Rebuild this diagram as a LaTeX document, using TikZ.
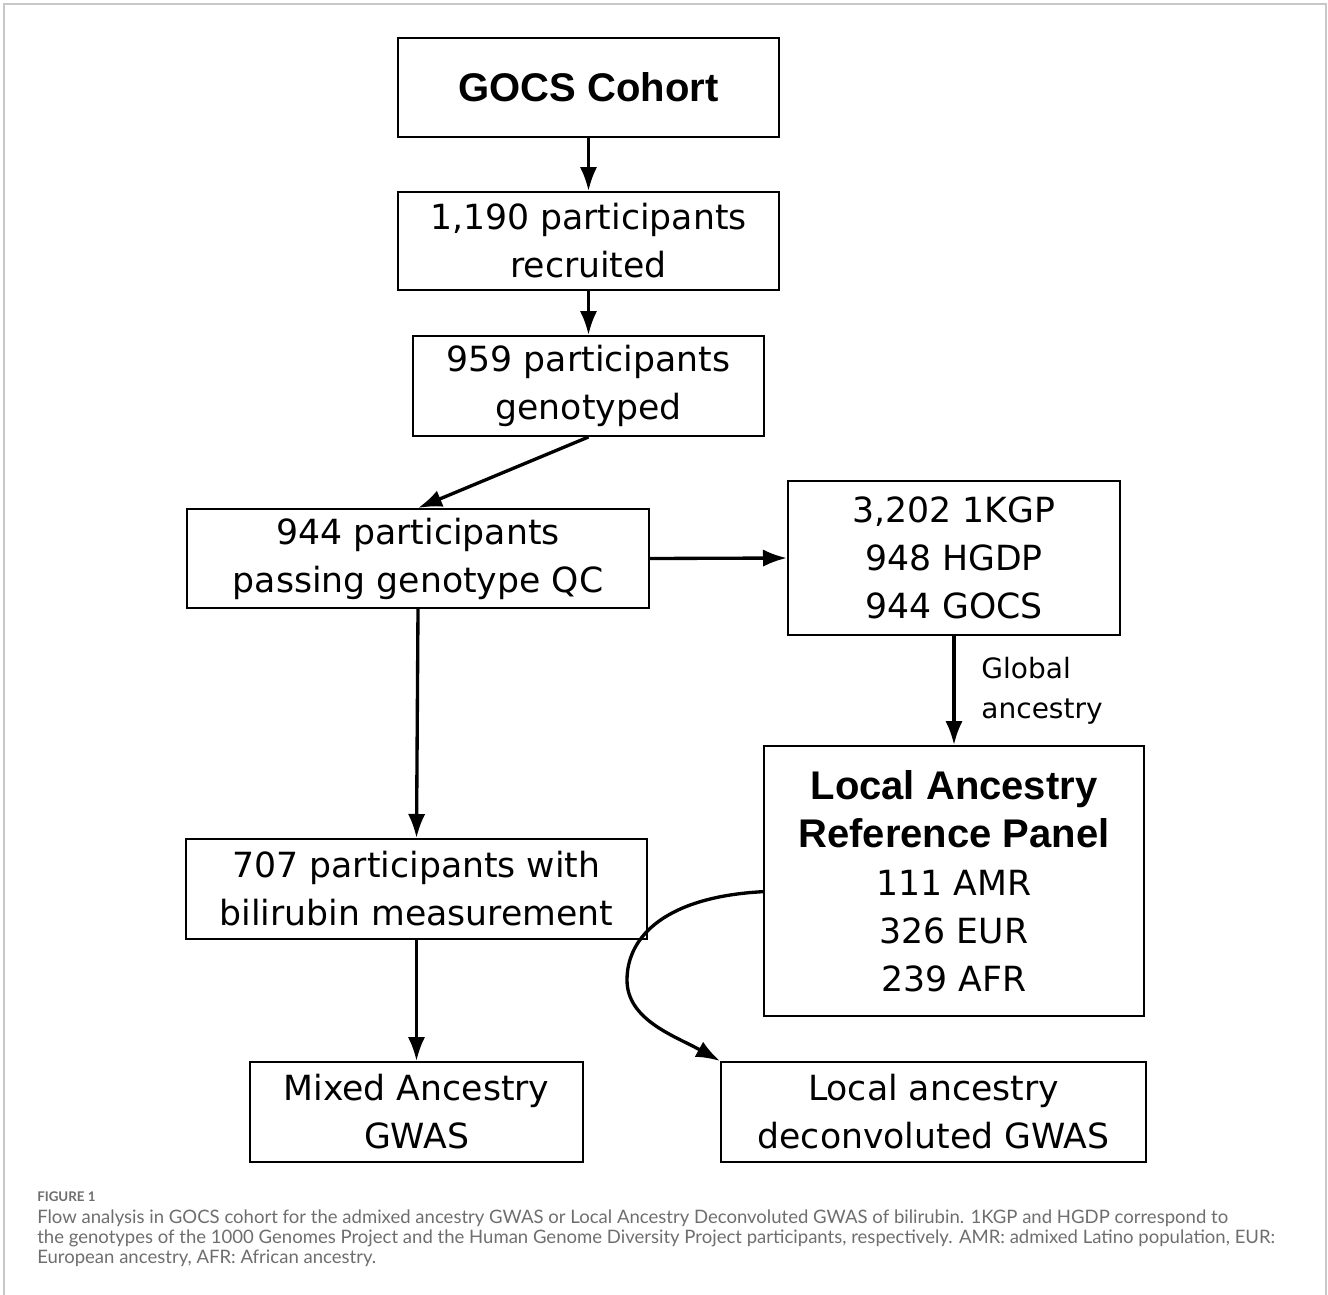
\documentclass[tikz,border=0pt]{standalone}
\usepackage{fontspec}
\setmainfont{DejaVu Sans}
\newfontfamily\headfont{Liberation Sans}
\newfontfamily\capfont{Lato}
\usepackage{tikz}
\usetikzlibrary{arrows.meta,positioning,calc}
\definecolor{framegray}{HTML}{C8C8C8}
\definecolor{capgray}  {HTML}{6E6E6E}

\begin{document}
\begin{tikzpicture}[
  box/.style={draw,line width=1.5pt,align=center,inner sep=0pt,
              font=\fontsize{26}{36}\selectfont},
  head/.style={font=\headfont\bfseries\fontsize{30}{36}\selectfont},
  arr/.style={-{Latex[length=18pt,width=13pt]},line width=2.5pt},
  x=0.75pt,y=-0.75pt
]
\useasboundingbox (0,0) rectangle (1328,1295);
\draw[framegray,line width=1pt] (4,1295) -- (4,4) -- (1326,4) -- (1326,1295);
% Cohort
\node[box,head,minimum width=285.75pt,minimum height=74.25pt] (gocs) at (588.5,87.5) {GOCS Cohort};
\node[box,minimum width=285.75pt,minimum height=73.5pt] (recr)  at (588.5,241)   {1,190 participants\\recruited};
\node[box,minimum width=263.25pt,minimum height=75pt]   (geno)  at (588.5,386)   {959 participants\\genotyped};
\node[box,minimum width=346.5pt,minimum height=74.25pt] (qc)    at (418,558.5)   {944 participants\\passing genotype QC};
% Reference panel
\node[box,minimum width=249pt,minimum height=115.5pt]   (ref)   at (954,558)     {3,202 1KGP\\948 HGDP\\944 GOCS};
\node[box,minimum width=285pt,minimum height=202.5pt]   (larp)  at (954,881)
  {{\headfont\bfseries\fontsize{30}{36}\selectfont Local Ancestry}\\
   {\headfont\bfseries\fontsize{30}{36}\selectfont Reference Panel}\\
   111 AMR\\326 EUR\\239 AFR};
% Analyses
\node[box,minimum width=345.75pt,minimum height=75pt]   (bili)  at (416.5,889)   {707 participants with\\bilirubin measurement};
\node[box,minimum width=249.75pt,minimum height=75pt]   (mixed) at (416.5,1112)  {Mixed Ancestry\\GWAS};
\node[box,minimum width=318.75pt,minimum height=75pt]   (lad)   at (933.5,1112)  {Local ancestry\\deconvoluted GWAS};

\draw[arr] (gocs.south) -- (recr.north);
\draw[arr] (recr.south) -- (geno.north);
\draw[arr] (geno.south) -- (qc.north);
\draw[arr] (qc.east) -- (ref.west);
\draw[arr] (ref.south) -- node[anchor=west,xshift=16pt,align=left,
  font=\fontsize{21}{30}\selectfont]{Global\\ancestry} (larp.north);
\draw[arr] (qc.south) -- (bili.north);
\draw[arr] (bili.south) -- (mixed.north);
\coordinate (bend) at (627,980);
\draw[arr] ([yshift=-8pt]larp.west) .. controls +(-95,5) and +(0,-45) .. (bend)
  .. controls +(0,40) and +(-45,-25) .. (lad.north west);

% Caption
\node[anchor=west,inner sep=0pt,text=capgray,font=\capfont\bfseries\fontsize{10}{12}\selectfont] (fig) at (37,1197) {FIGURE 1};
\node[anchor=north west,align=left,inner sep=0pt,text=capgray,
      font=\capfont\fontsize{13.9}{14.7}\selectfont] (caption) at (37,1210)
  {Flow analysis in GOCS cohort for the admixed ancestry GWAS or Local Ancestry Deconvoluted GWAS of bilirubin. 1KGP and HGDP correspond to\\
   the genotypes of the 1000 Genomes Project and the Human Genome Diversity Project participants, respectively. AMR: admixed Latino population, EUR:\\
   European ancestry, AFR: African ancestry.};
\end{tikzpicture}
\end{document}
